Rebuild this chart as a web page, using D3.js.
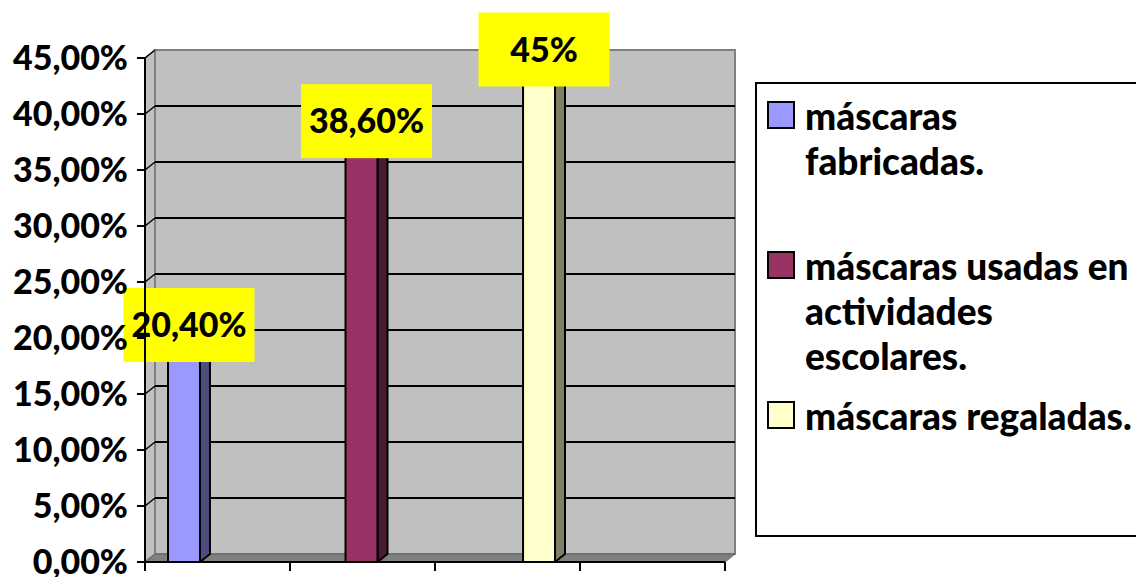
<!DOCTYPE html>
<html>
<head>
<meta charset="utf-8">
<script src="https://cdn.jsdelivr.net/npm/d3@7"></script>
<style>
  body { margin: 0; background: #fff; }
  text { font-family: Lato, "Open Sans", sans-serif; font-weight: 900; fill: #000; }
</style>
</head>
<body>
<div id="chart"></div>
<script>
// data
const series = ["máscaras fabricadas.", "máscaras usadas en actividades escolares.", "máscaras regaladas."];
const legendLines = [["máscaras", "fabricadas."], ["máscaras usadas en", "actividades", "escolares."], ["máscaras regaladas."]];
const values = [20.4, 38.6, 45];
const valueLabels = ["20,40%", "38,60%", "45%"];
const yTicks = [0, 5, 10, 15, 20, 25, 30, 35, 40, 45];
const xTicks = [0, 1, 2, 3, 4];

const frontColors = ["#9999FF", "#993366", "#FFFFCC"];
const sideColors = ["#4D4D80", "#4D1A33", "#808066"];

const width = 1136, height = 577;
const dx = 10, dy = -8; // depth offset of the 3d walls

const svg = d3.select("#chart").append("svg")
  .attr("width", width)
  .attr("height", height);

let y = d3.scaleLinear().domain([0, 45]).range([562, 58]);
let xAxisScale = d3.scaleLinear().domain([0, 4]).range([145, 725]);
let x = d3.scaleBand().domain(series).range([168, 555]).paddingInner(0.82).paddingOuter(0);

const x0 = xAxisScale(0), x1 = xAxisScale(4);
const yTop = y(45), yBase = y(0);

// left side wall
svg.append("path")
  .attr("d", `M${x0},${yTop}L${x0+dx},${yTop+dy}L${x0+dx},${yBase+dy}L${x0},${yBase}Z`)
  .attr("fill", "#C0C0C0").attr("stroke", "#808080").attr("stroke-width", 1.5);
// back wall
svg.append("rect")
  .attr("x", x0 + dx).attr("y", yTop + dy)
  .attr("width", x1 - x0).attr("height", yBase - yTop)
  .attr("fill", "#C0C0C0").attr("stroke", "#808080").attr("stroke-width", 2);
// floor
svg.append("path")
  .attr("d", `M${x0},${yBase}L${x0+dx},${yBase+dy}L${x1+dx},${yBase+dy}L${x1},${yBase}Z`)
  .attr("fill", "#808080").attr("stroke", "#606060").attr("stroke-width", 1);

// gridlines (back wall + side wall)
const grid = svg.append("g");
grid.selectAll(".gb").data(yTicks.filter(d => d > 0 && d < 45)).enter().append("line")
  .attr("x1", x0 + dx).attr("x2", x1 + dx)
  .attr("y1", d => y(d) + dy).attr("y2", d => y(d) + dy)
  .attr("stroke", "#000").attr("stroke-width", 2);
grid.selectAll(".gs").data(yTicks.filter(d => d > 0)).enter().append("line")
  .attr("x1", x0).attr("x2", x0 + dx)
  .attr("y1", d => y(d)).attr("y2", d => y(d) + dy)
  .attr("stroke", "#000").attr("stroke-width", 1.5);

// bars
const bw = x.bandwidth();
const bars = svg.append("g").selectAll("g").data(series).enter().append("g");
bars.append("path") // side
  .attr("d", (d, i) => {
    const xr = x(d) + bw, yt = y(values[i]);
    return `M${xr},${yt}L${xr+dx},${yt+dy}L${xr+dx},${yBase+dy}L${xr},${yBase}Z`;
  })
  .attr("fill", (d, i) => sideColors[i]).attr("stroke", "#000").attr("stroke-width", 2)
  .attr("stroke-linejoin", "round");
bars.append("path") // top
  .attr("d", (d, i) => {
    const xl = x(d), yt = y(values[i]);
    return `M${xl},${yt}L${xl+dx},${yt+dy}L${xl+bw+dx},${yt+dy}L${xl+bw},${yt}Z`;
  })
  .attr("fill", (d, i) => frontColors[i]).attr("stroke", "#000").attr("stroke-width", 2);
bars.append("rect") // front
  .attr("x", d => x(d)).attr("y", (d, i) => y(values[i]))
  .attr("width", bw).attr("height", (d, i) => yBase - y(values[i]))
  .attr("fill", (d, i) => frontColors[i]).attr("stroke", "#000").attr("stroke-width", 2);

// value labels
const lbl = svg.append("g").selectAll("g").data(series).enter().append("g")
  .attr("transform", (d, i) => `translate(${x(d) + bw / 2 + dx / 2},${y(values[i]) - 8.5})`);
lbl.append("rect")
  .attr("x", -65.5).attr("y", -37).attr("width", 131).attr("height", 74)
  .attr("fill", "#FFFF00");
lbl.append("text")
  .attr("text-anchor", "middle").attr("dy", "0.36em")
  .style("font-size", "34px")
  .text((d, i) => valueLabels[i]);

// y axis
const yAxis = svg.append("g");
yAxis.append("line")
  .attr("x1", x0).attr("x2", x0).attr("y1", yTop).attr("y2", yBase)
  .attr("stroke", "#000").attr("stroke-width", 2);
yAxis.selectAll(".tk").data(yTicks).enter().append("line")
  .attr("x1", x0 - 8).attr("x2", x0)
  .attr("y1", d => y(d)).attr("y2", d => y(d))
  .attr("stroke", "#000").attr("stroke-width", 2);
yAxis.selectAll(".tl").data(yTicks).enter().append("text")
  .attr("x", 128).attr("y", d => y(d)).attr("dy", "0.34em")
  .attr("text-anchor", "end")
  .style("font-size", "34px")
  .text(d => d.toFixed(2).replace(".", ",") + "%");

// x axis
const xAxis = svg.append("g");
xAxis.append("line")
  .attr("x1", x0).attr("x2", x1).attr("y1", yBase).attr("y2", yBase)
  .attr("stroke", "#000").attr("stroke-width", 2);
xAxis.selectAll(".tk").data(xTicks).enter().append("line")
  .attr("x1", d => xAxisScale(d)).attr("x2", d => xAxisScale(d))
  .attr("y1", yBase).attr("y2", yBase + 9)
  .attr("stroke", "#000").attr("stroke-width", 2);

// legend
const legend = svg.append("g");
legend.append("rect")
  .attr("x", 756).attr("y", 83).attr("width", 400).attr("height", 453)
  .attr("fill", "#fff").attr("stroke", "#000").attr("stroke-width", 2);
const items = legend.selectAll(".li").data(series).enter().append("g")
  .attr("transform", (d, i) => `translate(768,${130 + i * 150})`);
items.append("rect")
  .attr("x", 0).attr("y", -28).attr("width", 26).attr("height", 26)
  .attr("fill", (d, i) => frontColors[i]).attr("stroke", "#000").attr("stroke-width", 2);
items.each(function (d, i) {
  d3.select(this).selectAll("text").data(legendLines[i]).enter().append("text")
    .attr("x", 37).attr("y", (t, j) => j * 45)
    .style("font-size", "37px")
    .text(t => t);
});
</script>
</body>
</html>
